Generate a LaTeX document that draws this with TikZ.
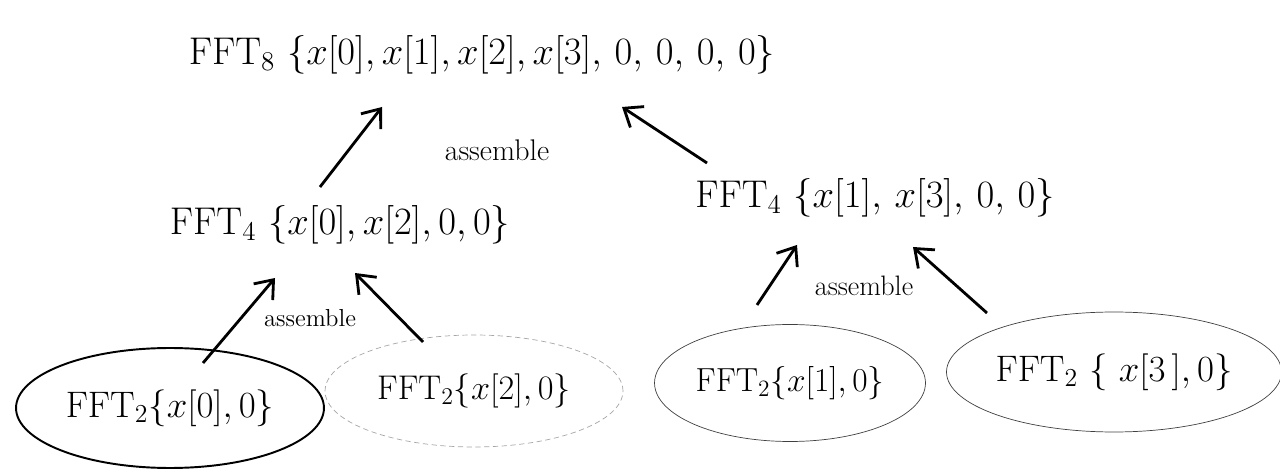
\RequirePackage{fix-cm}
\documentclass[tikz,border=0pt]{standalone}
\usepackage{amsmath}
\usepackage{tikz}
\usetikzlibrary{arrows.meta, calc, shapes.geometric}

\begin{document}
\begin{tikzpicture}[x=0.02cm, y=-0.02cm, >={Straight Barb[length=3.2mm, width=5mm]},
    fft/.style={inner sep=0pt, font=\fontsize{22}{26}\selectfont},
    cell/.style={draw, ellipse, inner sep=0pt, font=\fontsize{21}{25}\selectfont},
    word/.style={inner sep=0pt, font=\fontsize{17}{20}\selectfont},
    asm/.style={->, line width=1.6pt}]
    \useasboundingbox (0,0) rectangle (1280,472);
    % the four FFT_2 cells
    \node[cell, line width=1.1pt, minimum width=6.16cm, minimum height=2.4cm] (E1) at (170,408) {$\mathrm{FFT}_2\{x[0],0\}$};
    \node[cell, densely dashed, gray!70, text=black, font=\fontsize{19.5}{23}\selectfont, minimum width=5.96cm, minimum height=2.24cm] (E2) at (474,391) {$\mathrm{FFT}_2\{x[2],0\}$};
    \node[cell, black!75, text=black, font=\fontsize{19}{23}\selectfont, minimum width=5.42cm, minimum height=2.34cm] (E3) at (790,383) {$\mathrm{FFT}_2\{x[1],0\}$};
    \node[cell, black!75, text=black, minimum width=6.56cm, minimum height=2.4cm] (E4) at (1114,372) {$\mathrm{FFT}_2\ \{\ x[3\,],0\}$};
    % the two FFT_4 and the FFT_8
    \node[fft] (L4) at (340,225) {$\mathrm{FFT}_4\ \{x[0],x[2],0,0\}$};
    \node[fft] (R4) at (875,198) {$\mathrm{FFT}_4\ \{x[1],\,x[3],\,0,\,0\}$};
    \node[fft] (F8) at (482,55) {$\mathrm{FFT}_8\ \{x[0],x[1],x[2],x[3],\,0,\,0,\,0,\,0\}$};
    \node[word] (W8) at (497,150) {assemble};
    \node[word, font=\fontsize{14}{17}\selectfont] (WL) at (310,318) {assemble};
    \node[word, font=\fontsize{16}{19}\selectfont] (WR) at (864,286) {assemble};
    \draw[asm] ($(L4)+(-20,-38)$) -- ($(F8)+(-100,52)$);
    \draw[asm] ($(R4)+(-168,-35)$) -- ($(F8)+(140,52)$);
    \draw[asm] ($(E1)+(33,-45)$) -- ($(L4)+(-65,53)$);
    \draw[asm] ($(E2)+(-51,-49)$) -- ($(L4)+(15,48)$);
    \draw[asm] ($(E3)+(-33,-78)$) -- ($(R4)+(-78,47)$);
    \draw[asm] ($(E4)+(-127,-59)$) -- ($(R4)+(38,49)$);
\end{tikzpicture}
\end{document}
